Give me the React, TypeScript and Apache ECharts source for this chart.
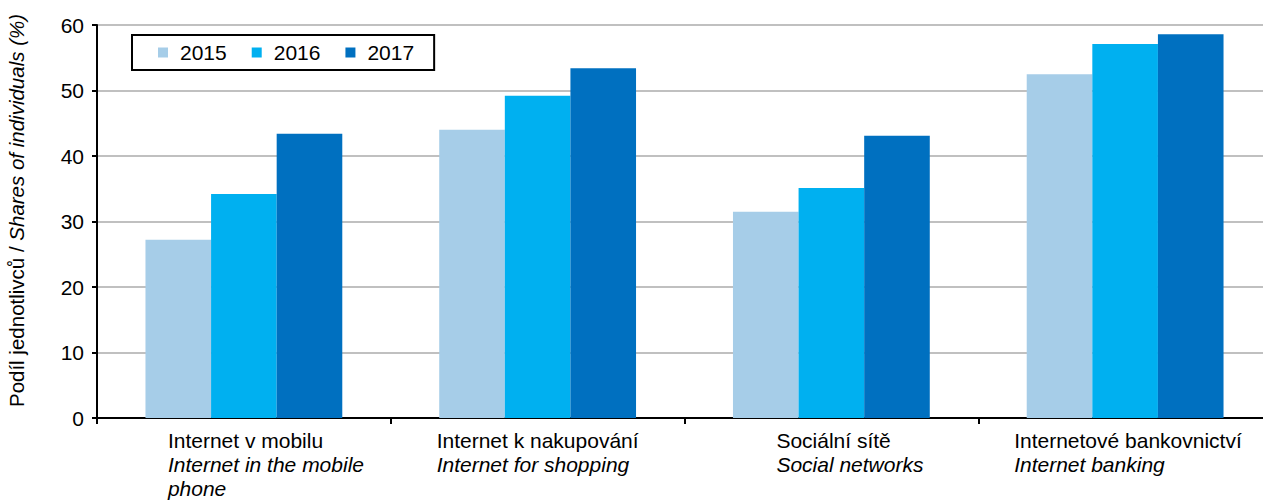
import React, { useEffect, useRef } from "react";
import * as echarts from "echarts";

const categoriesCz = ["Internet v mobilu", "Internet k nakupování", "Sociální sítě", "Internetové bankovnictví"];
const categoriesEn = ["Internet in the mobile\nphone", "Internet for shopping", "Social networks", "Internet banking"];
const years = ["2015", "2016", "2017"];
const values2015 = [27.2, 44.0, 31.5, 52.5];
const values2016 = [34.2, 49.2, 35.1, 57.1];
const values2017 = [43.4, 53.4, 43.1, 58.6];
const yMin = 0;
const yMax = 60;
const yInterval = 10;
const yAxisNameCz = "Podíl jednotlivců / ";
const yAxisNameEn = "Shares of individuals (%)";

const colors = ["#A6CDE8", "#00B0F0", "#0070C0"];
const FONT = "'Liberation Sans', Arial, sans-serif";
const labelWidths = [152, 202, 110, 222];

export default function App() {
  const ref = useRef<HTMLDivElement>(null);
  useEffect(() => {
    if (!ref.current) return;
    const chart = echarts.init(ref.current, undefined, { renderer: "svg" });
    const rich: Record<string, any> = {};
    labelWidths.forEach((w, i) => {
      rich["c" + i] = { width: w, align: "left", fontSize: 21, fontFamily: FONT, color: "#000", lineHeight: 24 };
      rich["e" + i] = { width: w, align: "left", fontSize: 21, fontStyle: "italic", fontFamily: FONT, color: "#000", lineHeight: 24 };
    });
    const seriesData = [values2015, values2016, values2017];
    chart.setOption({
      animation: false,
      textStyle: { fontFamily: FONT },
      grid: {
        left: 97,
        top: 25,
        right: -9,
        bottom: 86,
        outerBoundsMode: "none",
        containLabel: false,
        show: true,
        borderColor: "#000",
        borderWidth: 2,
      },
      legend: {
        data: years,
        left: 132,
        top: 35,
        orient: "horizontal",
        icon: "rect",
        itemWidth: 10,
        itemHeight: 10,
        itemGap: 25,
        borderColor: "#000",
        borderWidth: 2,
        padding: [7, 20, 7, 26],
        textStyle: { fontSize: 21, color: "#000", fontFamily: FONT, padding: [0, 0, 0, 7] },
      },
      xAxis: {
        type: "category",
        data: categoriesCz.map((c) => c),
        axisLine: { lineStyle: { color: "#000", width: 2 } },
        axisTick: { show: true, inside: false, length: 6, lineStyle: { color: "#000", width: 2 } },
        axisLabel: {
          interval: 0,
          margin: 10,
          hideOverlap: false,
          formatter: (value: string, index: number) =>
            `{c${index}|${categoriesCz[index]}}\n{e${index}|${categoriesEn[index]}}`,
          rich,
        },
      },
      yAxis: {
        type: "value",
        min: yMin,
        max: yMax,
        interval: yInterval,
        name: `{n|${yAxisNameCz}}{i|${yAxisNameEn}}`,
        nameLocation: "middle",
        nameRotate: 90,
        nameGap: 70,
        nameTextStyle: {
          padding: [0, 0, 0, 22],
          rich: {
            n: { fontSize: 20.5, fontFamily: FONT, color: "#000" },
            i: { fontSize: 20.5, fontFamily: FONT, color: "#000", fontStyle: "italic" },
          },
        },
        axisLine: { show: true, lineStyle: { color: "#000", width: 2 } },
        axisTick: { show: true, length: 5, lineStyle: { color: "#000", width: 2 } },
        axisLabel: { fontSize: 21, color: "#000", fontFamily: FONT, margin: 13 },
        splitLine: { show: true, lineStyle: { color: "#C0C0C0", width: 2 } },
      },
      series: years.map((y, i) => ({
        name: y,
        type: "bar",
        data: seriesData[i],
        barGap: "0%",
        barCategoryGap: "33%",
        itemStyle: { color: colors[i] },
      })),
    });
    return () => chart.dispose();
  }, []);
  return (
    <div
      ref={ref}
      style={{ position: "absolute", left: 0, top: 0, width: 1263, height: 504, background: "#fff" }}
    />
  );
}
